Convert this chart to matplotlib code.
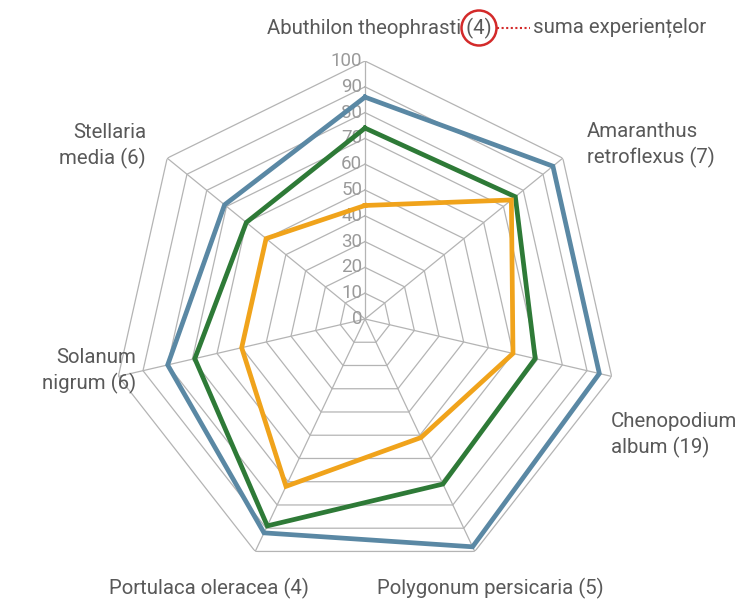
import numpy as np
import matplotlib.pyplot as plt
from matplotlib.patches import Ellipse
from matplotlib.lines import Line2D

# axes of the radar, clockwise from the top
species = ['Abuthilon theophrasti (4)', 'Amaranthus\nretroflexus (7)', 'Chenopodium\nalbum (19)',
           'Polygonum persicaria (5)', 'Portulaca oleracea (4)', 'Solanum\nnigrum (6)',
           'Stellaria\nmedia (6)']
serie_albastra = [86, 95, 95, 98, 92, 80, 71]
serie_verde = [74, 76, 69, 71, 89, 69, 60]
serie_portocalie = [44, 74, 60, 51, 72, 50, 50]
ticks = list(range(0, 101, 10))

plt.rcParams['font.family'] = ['Roboto', 'DejaVu Sans']

W, H = 740, 603
fig = plt.figure(figsize=(W / 100, H / 100), dpi=100)

def px(x, y):
    return x / W, 1 - y / H

cx, cy, rx, ry = 365, 319, 253, 258
ax = fig.add_axes([(cx - rx) / W, (H - cy - ry) / H, 2 * rx / W, 2 * ry / H], projection='polar')
ax.set_aspect('auto')
ax.set_theta_zero_location('N')
ax.set_theta_direction(-1)
ax.set_ylim(0, 100)
ax.grid(False)
ax.set_xticks([])
ax.set_yticks([])
ax.spines['polar'].set_visible(False)
ax.patch.set_alpha(0)

n = len(species)
ang = np.linspace(0, 2 * np.pi, n, endpoint=False)
ang_c = np.append(ang, ang[0])

grid_col = '#b4b4b4'
for r in ticks[1:]:
    ax.plot(ang_c, [r] * (n + 1), color=grid_col, lw=0.9, zorder=1)
for a in ang:
    ax.plot([a, a], [0, 100], color=grid_col, lw=0.9, zorder=1)

for r in ticks:
    ax.annotate(str(r), (0, r), xytext=(-2, 0), textcoords='offset points',
                ha='right', va='center', fontsize=13.5, color='#9a9a9a', zorder=2)

series = [(serie_albastra, '#5a88a4'), (serie_verde, '#2e7a37'), (serie_portocalie, '#f0a31b')]
for vals, col in series:
    ax.plot(ang_c, vals + vals[:1], color=col, lw=3.4, zorder=3, solid_joinstyle='miter')

# category labels
lab_col = '#595959'
fs = 14.7
pos = [(379, 28, 'center'), (587, 145, 'left'), (611, 435, 'left'), (490, 588, 'center'),
       (209, 588, 'center'), (136, 371, 'right'), (146, 146, 'right')]
for name, (x, y, ha) in zip(species, pos):
    fig.text(*px(x, y), name, ha=ha, va='center', fontsize=fs, color=lab_col, linespacing=1.4)

fig.text(*px(533, 28), 'suma experiențelor', ha='left', va='center', fontsize=fs, color=lab_col)
fig.add_artist(Ellipse(px(479, 28), 35 / W, 35 / H, fill=False, ec='#d32a2a', lw=1.8))
fig.add_artist(Line2D([497 / W, 530 / W], [1 - 28 / H] * 2, color='#d32a2a', lw=1.5, ls=(0, (1, 1.2))))

fig.savefig('out.png', dpi=100)
